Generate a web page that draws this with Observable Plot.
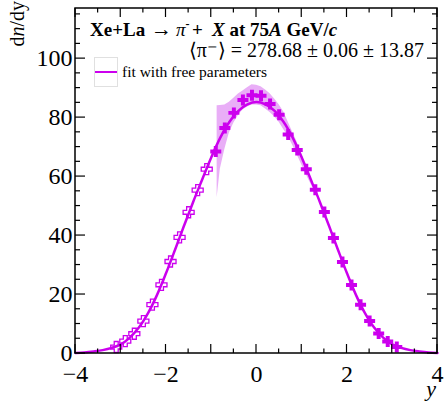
<!DOCTYPE html>
<html><head><meta charset="utf-8">
<script src="https://cdn.jsdelivr.net/npm/d3@7"></script>
<script src="https://cdn.jsdelivr.net/npm/@observablehq/plot@0.6"></script>
<style>
body{margin:0;background:#fff}
#chart{width:445px;height:403px;overflow:hidden}
#chart svg text{font-family:"Liberation Serif","Times New Roman",serif}
</style>
</head><body><div id="chart"></div>
<script>
// measured points (filled crosses)
const measX = [-0.9,-0.7,-0.5,-0.3,-0.1,0.1,0.3,0.5,0.7,0.9,1.1,1.3,1.5,1.7,1.9,2.1,2.3,2.5,2.7,2.9,3.1];
const measY = [68.5,76.5,81.6,86.0,87.6,87.4,84.6,81.0,74.3,69.0,62.5,55.5,48.0,39.2,31.0,23.2,16.5,11.0,6.8,4.1,2.2];
// reflected points (open crosses)
const reflX = [-3.1,-2.9,-2.7,-2.5,-2.3,-2.1,-1.9,-1.7,-1.5,-1.3,-1.1];
const reflY = [2.2,4.2,6.7,11.0,16.6,23.3,31.2,39.4,47.9,55.4,62.5];
// fit curve
const fitX = [-4,-3.8,-3.6,-3.4,-3.2,-3,-2.8,-2.6,-2.4,-2.2,-2,-1.8,-1.6,-1.4,-1.2,-1,-0.8,-0.6,-0.4,-0.2,0,0.2,0.4,0.6,0.8,1,1.2,1.4,1.6,1.8,2,2.2,2.4,2.6,2.8,3,3.2,3.4,3.6,3.8,4];
const fitY = [0.15,0.35,0.7,1.15,1.9,3.1,5.4,8.8,13.6,19.8,27.2,35.2,43.4,51.4,59.0,66.5,73.2,78.5,82.3,84.5,85.3,84.5,82.3,78.5,73.2,66.5,59.0,51.4,43.4,35.2,27.2,19.8,13.6,8.8,5.4,3.1,1.9,1.15,0.7,0.35,0.15];
// uncertainty band
const bandX  = [-0.87,-0.8,-0.7,-0.6,-0.5,-0.4,-0.3,-0.2,-0.1,0,0.1,0.2,0.3,0.4,0.5,0.6,0.7,0.8,0.9,1.0,1.1,1.2,1.3,1.4];
const bandHi = [84.0,84.1,84.3,85.2,86.6,88.0,89.0,90.1,91.1,91.0,90.5,89.4,88.1,86.3,84.4,82.0,78.5,75.0,71.6,67.5,63.3,59.5,55.6,51.5];
const bandLo = [52.8,62.5,69.2,74.8,78.2,80.7,82.6,83.6,84.3,84.3,84.0,82.9,81.7,80.3,78.4,76.0,73.6,70.6,67.3,64.0,60.6,57.6,54.5,51.2];
// ticks
const xTickLabels = [-4,-2,0,2,4];
const yTickLabels = [0,20,40,60,80,100];
const xMajorTicks = [-4,-3,-2,-1,0,1,2,3,4];
const xMinorTicks = [-3.5,-2.5,-1.5,-0.5,0.5,1.5,2.5,3.5];
const yMajorTicks = [0,20,40,60,80,100];
const yMinorTicks = [5,10,15,25,30,35,45,50,55,65,70,75,85,90,95,105,110,115];
// texts
const legendLabel = "fit with free parameters";
const meanText = "\u27E8\u03C0\u207B\u27E9 = 278.68 \u00B1 0.06 \u00B1 13.87";

const SERIF = "Liberation Serif, Times New Roman, serif";
const C = "#cc00ee";
const BAND = "#e9aef7";

const meas = measX.map((x,i)=>({x, y: measY[i]}));
const refl = reflX.map((x,i)=>({x, y: reflY[i]}));
const fit = fitX.map((x,i)=>({x, y: fitY[i]}));
const band = bandX.map((x,i)=>({x, hi: bandHi[i], lo: bandLo[i]}));

const crossSymbol = {
  draw(ctx, size) {
    const r = Math.sqrt(size / Math.PI);
    const t = r * 0.36;
    ctx.moveTo(-t, -r); ctx.lineTo(t, -r); ctx.lineTo(t, -t); ctx.lineTo(r, -t);
    ctx.lineTo(r, t); ctx.lineTo(t, t); ctx.lineTo(t, r); ctx.lineTo(-t, r);
    ctx.lineTo(-t, t); ctx.lineTo(-r, t); ctx.lineTo(-r, -t); ctx.lineTo(-t, -t);
    ctx.closePath();
  }
};

function decorations(index, scales, values, dims) {
  const {x, y} = scales;
  const {width, height, marginLeft, marginRight, marginTop, marginBottom} = dims;
  const x0 = marginLeft, x1 = width - marginRight, y0 = marginTop, y1 = height - marginBottom;
  const g = d3.create("svg:g").attr("font-family", SERIF).attr("text-anchor", "start");
  const tk = g.append("g").attr("stroke", "#000").attr("stroke-width", 1.2).attr("fill", "none");
  const hx = (v, len) => {
    const px = x(v);
    tk.append("line").attr("x1", px).attr("x2", px).attr("y1", y1).attr("y2", y1 - len);
    tk.append("line").attr("x1", px).attr("x2", px).attr("y1", y0).attr("y2", y0 + len);
  };
  const hy = (v, len) => {
    const py = y(v);
    tk.append("line").attr("y1", py).attr("y2", py).attr("x1", x0).attr("x2", x0 + len);
    tk.append("line").attr("y1", py).attr("y2", py).attr("x1", x1).attr("x2", x1 - len);
  };
  xMajorTicks.forEach(v => hx(v, 9));
  xMinorTicks.forEach(v => hx(v, 4.5));
  yMajorTicks.forEach(v => hy(v, 10));
  yMinorTicks.forEach(v => hy(v, 5));
  g.append("rect").attr("x", x0).attr("y", y0).attr("width", x1 - x0).attr("height", y1 - y0)
    .attr("fill", "none").attr("stroke", "#000").attr("stroke-width", 1.5);

  // axis titles
  const yt = g.append("text").attr("transform", "translate(24,1) rotate(-90)")
    .attr("text-anchor", "end").attr("font-size", 20).attr("fill", "#000");
  yt.append("tspan").text("d");
  yt.append("tspan").attr("font-style", "italic").text("n");
  yt.append("tspan").text("/dy");
  g.append("text").attr("x", x1 - 1).attr("y", 396).attr("text-anchor", "end")
    .attr("font-size", 22).attr("font-style", "italic").attr("fill", "#000").text("y");

  // title
  const tt = g.append("text").attr("x", 90).attr("y", 36).attr("font-size", 19)
    .attr("text-anchor", "start").attr("font-weight", "bold").attr("fill", "#000");
  tt.append("tspan").text("Xe+La");
  tt.append("tspan").attr("x", 151).attr("font-weight", "normal").attr("font-size", 21).text("\u2192");
  tt.append("tspan").attr("x", 176).attr("font-style", "italic").attr("font-weight", "normal").text("\u03C0");
  tt.append("tspan").attr("font-size", 12).attr("dy", -8).text("-");
  tt.append("tspan").attr("x", 192).attr("dy", 8).text("+");
  tt.append("tspan").attr("x", 212).attr("font-style", "italic").text("X");
  tt.append("tspan").text(" at 75");
  tt.append("tspan").attr("font-style", "italic").text("A");
  tt.append("tspan").text(" GeV/");
  tt.append("tspan").attr("font-style", "italic").text("c");

  g.append("text").attr("x", 424).attr("y", 57).attr("font-size", 20).attr("text-anchor", "end")
    .attr("fill", "#000").text(meanText);

  // legend
  g.append("rect").attr("x", 94.5).attr("y", 57.5).attr("width", 23).attr("height", 29)
    .attr("fill", "#fff").attr("stroke", "#e0e0e0").attr("stroke-width", 1);
  g.append("line").attr("x1", 95).attr("x2", 117).attr("y1", 72).attr("y2", 72)
    .attr("stroke", C).attr("stroke-width", 2);
  g.append("text").attr("x", 122).attr("y", 72).attr("dy", "0.32em").attr("font-size", 15.5)
    .attr("text-anchor", "start").attr("fill", "#000").text(legendLabel);
  return g.node();
}

const fmt = d => d < 0 ? "\u2212" + (-d) : String(d);

const plot = Plot.plot({
  width: 445, height: 403,
  marginLeft: 75, marginRight: 8, marginTop: 8, marginBottom: 50,
  style: {fontFamily: SERIF, fontSize: "24px", background: "#fff", color: "#000"},
  x: {domain: [-4, 4]},
  y: {domain: [0, 117]},
  marks: [
    Plot.areaY(band, {x: "x", y1: "lo", y2: "hi", fill: BAND}),
    Plot.line(fit, {x: "x", y: "y", stroke: C, strokeWidth: 2.5, curve: "catmull-rom"}),
    Plot.dot(refl, {x: "x", y: "y", symbol: crossSymbol, r: 5.5, stroke: C, strokeWidth: 1.3, fill: "none"}),
    Plot.dot(meas, {x: "x", y: "y", symbol: crossSymbol, r: 5.5, fill: C, stroke: "none"}),
    Plot.axisX(xTickLabels, {tickSize: 0, tickPadding: 11, tickFormat: fmt, label: null, fontFamily: SERIF, fontSize: 24}),
    Plot.axisY(yTickLabels, {tickSize: 0, tickPadding: 3, tickFormat: fmt, label: null, fontFamily: SERIF, fontSize: 24}),
    decorations
  ]
});
document.getElementById("chart").appendChild(plot);
</script>
</body></html>
